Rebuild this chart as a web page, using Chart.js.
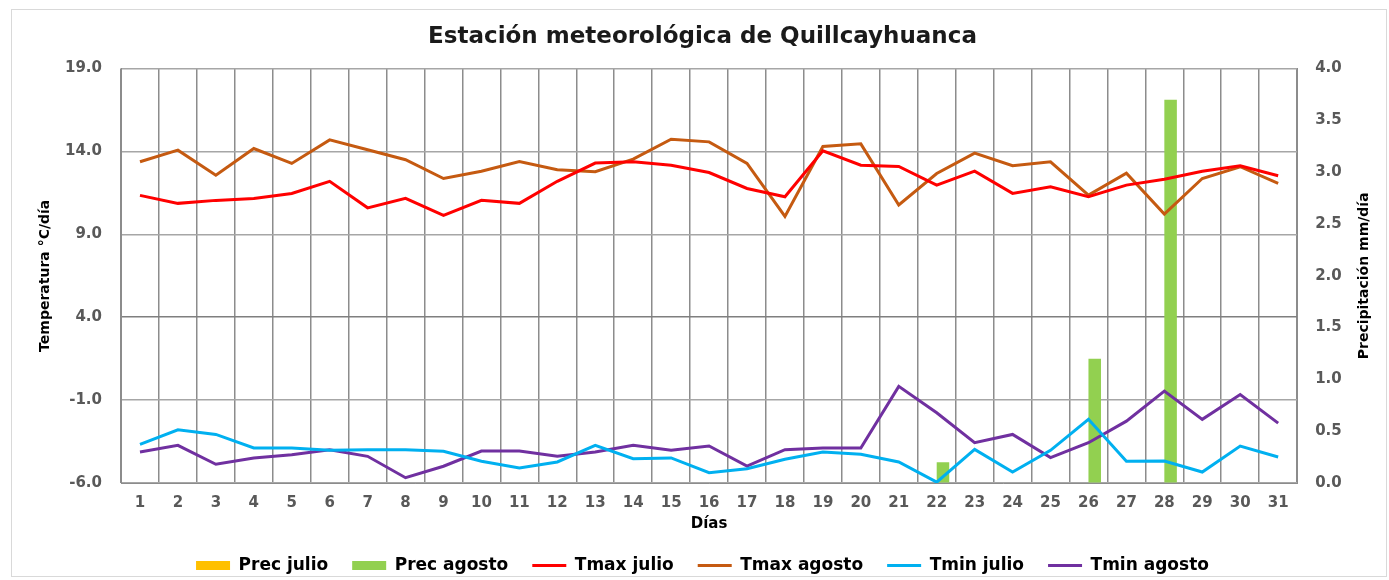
<!DOCTYPE html>
<html>
<head>
<meta charset="utf-8">
<script src="https://cdn.jsdelivr.net/npm/chart.js@4/dist/chart.umd.min.js"></script>
<style>
  html, body { margin: 0; padding: 0; background: #fff; }
  #frame { position: absolute; left: 11px; top: 9px; width: 1374px; height: 566px; border: 1px solid #d9d9d9; }
  canvas { position: absolute; left: 0; top: 0; }
</style>
</head>
<body>
<div id="frame"></div>
<canvas id="climaChart" width="1389" height="580"></canvas>
<script>
const dias = Array.from({ length: 31 }, (_, i) => String(i + 1));

const precJulio = [0, 0, 0, 0, 0, 0, 0, 0, 0, 0, 0, 0, 0, 0, 0, 0, 0, 0, 0, 0, 0, 0, 0, 0, 0, 0, 0, 0, 0, 0, 0];
const precAgosto = [0, 0, 0, 0, 0, 0, 0, 0, 0, 0, 0, 0, 0, 0, 0, 0, 0, 0, 0, 0, 0, 0.2, 0, 0, 0, 1.2, 0, 3.7, 0, 0, 0];

const tmaxJulio = [11.35, 10.87, 11.05, 11.17, 11.47, 12.2, 10.6, 11.17, 10.14, 11.05, 10.87,
    12.2, 13.3, 13.38, 13.17, 12.73, 11.77, 11.27, 14.04, 13.17, 13.1,
    11.97, 12.81, 11.47, 11.87, 11.27, 11.97, 12.33, 12.81, 13.14, 12.54];
const tmaxAgosto = [13.38, 14.08, 12.57, 14.18, 13.28, 14.7, 14.1, 13.5, 12.37, 12.81, 13.4,
    12.9, 12.78, 13.54, 14.74, 14.58, 13.28, 10.08, 14.3, 14.46, 10.77,
    12.67, 13.9, 13.14, 13.38, 11.37, 12.69, 10.22, 12.37, 13.08, 12.08];
const tminJulio = [-3.67, -2.79, -3.07, -3.89, -3.89, -4.03, -3.99, -3.99, -4.09, -4.69, -5.1,
    -4.73, -3.73, -4.53, -4.49, -5.38, -5.14, -4.57, -4.13, -4.27, -4.73,
    -5.95, -3.97, -5.34, -4.03, -2.16, -4.69, -4.67, -5.34, -3.77, -4.43];
const tminAgosto = [-4.13, -3.73, -4.87, -4.49, -4.29, -3.99, -4.39, -5.68, -4.99, -4.07, -4.07,
    -4.39, -4.13, -3.73, -4.03, -3.77, -4.98, -3.99, -3.89, -3.89, -0.17,
    -1.76, -3.57, -3.07, -4.47, -3.57, -2.27, -0.46, -2.16, -0.66, -2.39];

const fuente = "'DejaVu Sans', sans-serif";

// el título del eje derecho se lee de abajo hacia arriba, como el izquierdo
const tituloDerecho = {
    id: "tituloDerecho",
    afterDraw(chart) {
        const s = chart.scales.yPrec;
        const c = chart.ctx;
        c.save();
        c.font = "bold 14px " + fuente;
        c.fillStyle = "#000";
        c.textAlign = "center";
        c.textBaseline = "middle";
        c.translate(s.right - 4.6 - 8.4, (s.top + s.bottom) / 2);
        c.rotate(-Math.PI / 2);
        c.fillText("Precipitación mm/día", 0, 0);
        c.restore();
    }
};

document.addEventListener("DOMContentLoaded", function () {
    const ctx = document.getElementById("climaChart").getContext("2d");
    const gris = "#595959";

    function linea(label, data, color) {
        return {
            type: "line",
            label: label,
            data: data,
            yAxisID: "yTemp",
            borderColor: color,
            backgroundColor: color,
            borderWidth: 3,
            pointRadius: 0,
            pointStyle: "line",
            tension: 0
        };
    }

    new Chart(ctx, {
        type: "bar",
        data: {
            labels: dias,
            datasets: [
                { label: "Prec julio", data: precJulio, yAxisID: "yPrec", backgroundColor: "#FFC000", pointStyle: "rect", order: 1 },
                { label: "Prec agosto", data: precAgosto, yAxisID: "yPrec", backgroundColor: "#92D050", pointStyle: "rect", order: 1 },
                linea("Tmax julio", tmaxJulio, "#FF0000"),
                linea("Tmax agosto", tmaxAgosto, "#C55A11"),
                linea("Tmin julio", tminJulio, "#00B0F0"),
                linea("Tmin agosto", tminAgosto, "#7030A0")
            ]
        },
        plugins: [tituloDerecho],
        options: {
            responsive: false,
            maintainAspectRatio: false,
            animation: false,
            datasets: {
                bar: { categoryPercentage: 0.66, barPercentage: 1.0 }
            },
            layout: { padding: { left: 28, right: 12, top: 10, bottom: -4 } },
            plugins: {
                title: {
                    display: true,
                    text: "Estación meteorológica de Quillcayhuanca",
                    color: "#1a1a1a",
                    font: { family: fuente, size: 23, weight: "bold" },
                    padding: { top: 13, bottom: 18 }
                },
                legend: {
                    position: "bottom",
                    labels: {
                        usePointStyle: true,
                        pointStyleWidth: 34,
                        boxHeight: 9,
                        padding: 24,
                        color: "#000",
                        font: { family: fuente, size: 17, weight: "bold" },
                        sort: (a, b) => a.datasetIndex - b.datasetIndex
                    }
                },
                tooltip: { enabled: false }
            },
            scales: {
                x: {
                    grid: { color: "#8c8c8c", lineWidth: 1.5, drawTicks: false, offset: true },
                    border: { color: "#8c8c8c" },
                    ticks: { color: gris, font: { family: fuente, size: 15, weight: "bold" }, padding: 11, maxRotation: 0 },
                    title: {
                        display: true,
                        text: "Días",
                        color: "#000",
                        font: { family: fuente, size: 15, weight: "bold" },
                        padding: { top: -8, bottom: 0 }
                    }
                },
                yTemp: {
                    position: "left",
                    min: -6,
                    max: 19,
                    ticks: {
                        stepSize: 5,
                        color: gris,
                        padding: 19,
                        font: { family: fuente, size: 15, weight: "bold" },
                        callback: v => v.toFixed(1)
                    },
                    grid: {
                        color: c => (c.tick && c.tick.value === 4 ? "#7f7f7f" : "#a6a6a6"),
                        lineWidth: 1.5,
                        drawTicks: false
                    },
                    border: { color: "#8c8c8c" },
                    title: {
                        display: true,
                        text: "Temperatura °C/día",
                        color: "#000",
                        font: { family: fuente, size: 14, weight: "bold" },
                        padding: { top: 8.6, bottom: -7.4 }
                    }
                },
                yPrec: {
                    position: "right",
                    min: 0,
                    max: 4,
                    ticks: {
                        stepSize: 0.5,
                        color: gris,
                        padding: 18,
                        font: { family: fuente, size: 15, weight: "bold" },
                        callback: v => v.toFixed(1)
                    },
                    grid: { drawOnChartArea: false, drawTicks: false },
                    border: { color: "#8c8c8c" },
                    title: {
                        // reserva el sitio; el texto lo pinta el plugin tituloDerecho
                        display: true,
                        text: "Precipitación mm/día",
                        color: "rgba(0,0,0,0)",
                        font: { family: fuente, size: 14, weight: "bold" },
                        padding: { top: 4.6, bottom: -4.1 }
                    }
                }
            }
        }
    });
});
</script>
</body>
</html>
